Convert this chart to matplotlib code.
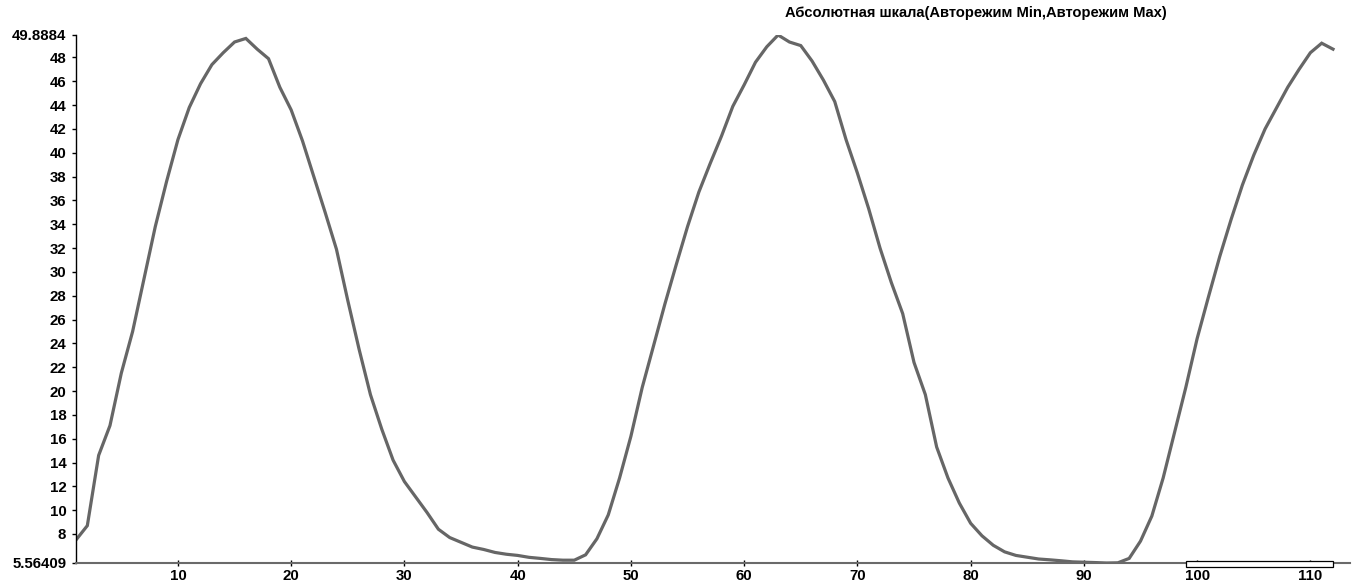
import matplotlib
matplotlib.use("Agg")
import matplotlib.pyplot as plt
import matplotlib.transforms as mtransforms
from matplotlib.patches import Rectangle

# sample index and measured value
x = list(range(1, 113))
y = [
    7.5, 8.7, 14.6, 17.1, 21.5, 25.0, 29.4, 33.8, 37.6, 41.1,
    43.8, 45.8, 47.4, 48.4, 49.3, 49.6, 48.7, 47.9, 45.5, 43.6,
    41.0, 38.0, 35.0, 31.9, 27.6, 23.5, 19.7, 16.8, 14.2, 12.4,
    11.1, 9.8, 8.4, 7.7, 7.3, 6.9, 6.7, 6.45, 6.3, 6.2,
    6.04, 5.95, 5.85, 5.8, 5.8, 6.25, 7.6, 9.6, 12.7, 16.2,
    20.3, 23.8, 27.3, 30.6, 33.8, 36.7, 39.1, 41.4, 43.9, 45.7,
    47.6, 48.9, 49.8884, 49.3, 49.0, 47.7, 46.1, 44.3, 41.1, 38.3,
    35.3, 32.0, 29.1, 26.5, 22.4, 19.7, 15.3, 12.7, 10.6, 8.9,
    7.85, 7.05, 6.5, 6.2, 6.05, 5.9, 5.83, 5.75, 5.66, 5.63,
    5.6, 5.56409, 5.58, 5.95, 7.4, 9.5, 12.7, 16.5, 20.3, 24.4,
    27.9, 31.3, 34.4, 37.3, 39.8, 42.0, 43.75, 45.5, 47.0, 48.4,
    49.2, 48.7,
]

y_min = min(y)
y_max = max(y)
y_ticks = [y_min] + list(range(8, 50, 2)) + [y_max]
y_labels = ["5.56409"] + [str(v) for v in range(8, 50, 2)] + ["49.8884"]
x_ticks = list(range(10, 120, 10))

title = "Абсолютная шкала(Авторежим Min,Авторежим Max)"

plt.rcParams["font.family"] = ["Liberation Sans", "DejaVu Sans"]

fig = plt.figure(figsize=(13.59, 5.85), dpi=100)
ax = fig.add_axes([76 / 1359, 1 - 563 / 585, (1350 - 76) / 1359, (563 - 35) / 585])

ax.plot(x, y, color="#666666", lw=2.3, solid_joinstyle="miter")

ax.set_xlim(1, 113.5)
ax.set_ylim(y_min, y_max)

for side in ("top", "right"):
    ax.spines[side].set_visible(False)
ax.spines["left"].set_color("black")
ax.spines["bottom"].set_color("#6a6a6a")
ax.spines["left"].set_linewidth(1)
ax.spines["bottom"].set_linewidth(1.5)

ax.set_yticks(y_ticks)
ax.set_yticklabels(y_labels, fontsize=10.8, fontweight="bold")
ax.set_xticks(x_ticks)
ax.set_xticklabels([str(v) for v in x_ticks], fontsize=10.8, fontweight="bold")
ax.tick_params(axis="y", length=3, width=1, pad=4, colors="black")
ax.tick_params(axis="x", direction="inout", length=5, width=1, pad=2, colors="black")

# scroll box along the bottom axis
trans = mtransforms.blended_transform_factory(ax.transData, ax.transAxes)
ax.add_patch(Rectangle((99, -0.007), 13, 0.011, transform=trans,
                       facecolor="white", edgecolor="black", lw=0.9,
                       clip_on=False, zorder=5))

fig.text(976 / 1359, 1 - 13 / 585, title, ha="center", va="center",
         fontsize=10.6, fontweight="bold")

fig.savefig("out.png", dpi=100, facecolor="white")
